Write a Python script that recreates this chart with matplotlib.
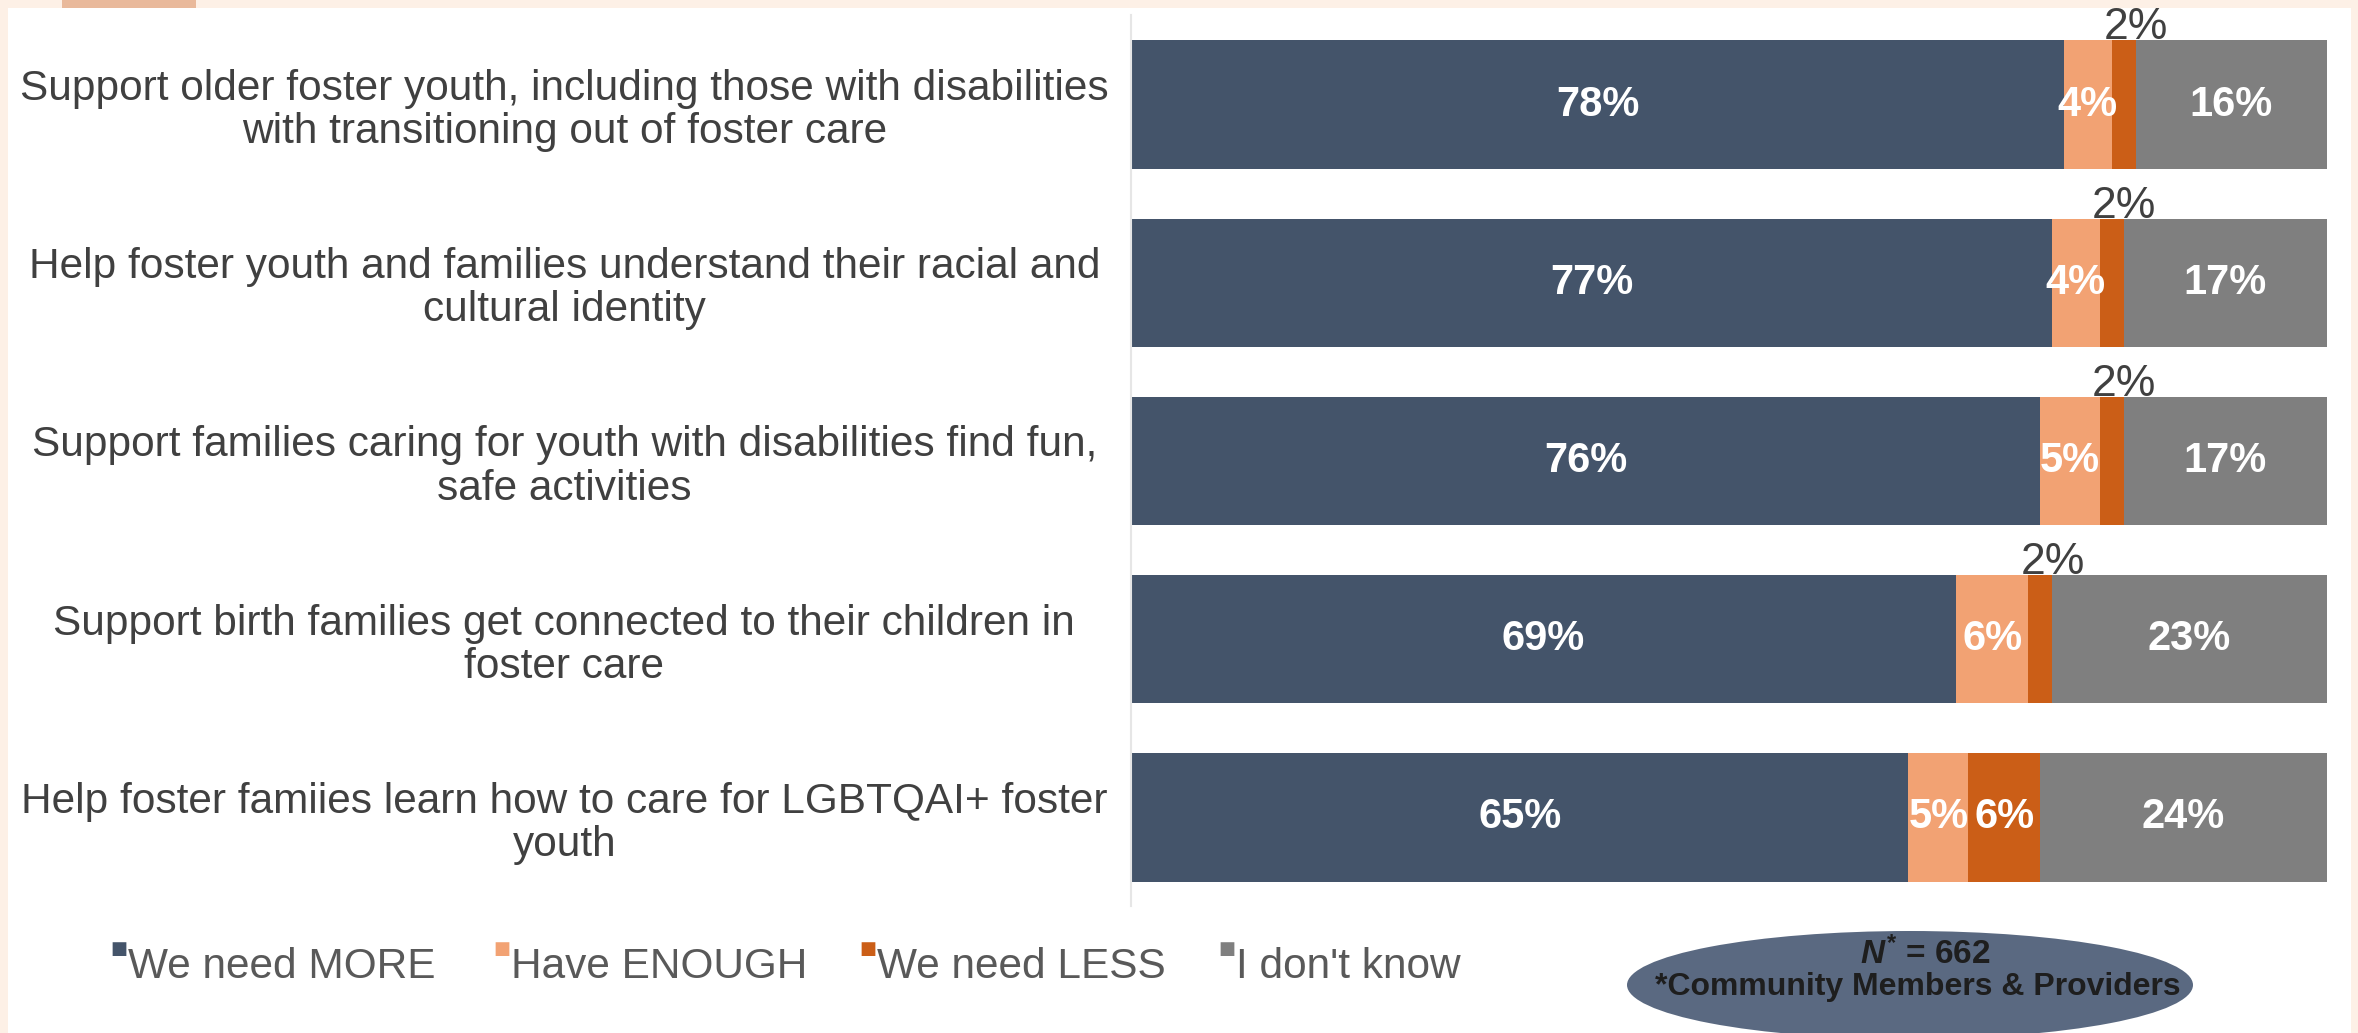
import matplotlib.pyplot as plt
import numpy as np
from matplotlib.patches import Ellipse, Rectangle

plt.rcParams['font.family'] = ['Liberation Sans', 'DejaVu Sans']
plt.rcParams['mathtext.fontset'] = 'custom'
plt.rcParams['mathtext.it'] = 'Liberation Sans:italic:bold'
plt.rcParams['mathtext.rm'] = 'Liberation Sans:bold'

categories = [
    "Support older foster youth, including those with disabilities\nwith transitioning out of foster care",
    "Help foster youth and families understand their racial and\ncultural identity",
    "Support families caring for youth with disabilities find fun,\nsafe activities",
    "Support birth families get connected to their children in\nfoster care",
    "Help foster famiies learn how to care for LGBTQAI+ foster\nyouth",
]
series_names = ["We need MORE", "Have ENOUGH", "We need LESS", "I don't know"]
need_more = [78, 77, 76, 69, 65]
have_enough = [4, 4, 5, 6, 5]
need_less = [2, 2, 2, 2, 6]
dont_know = [16, 17, 17, 23, 24]
sample_n = 662

colors = ["#44546A", "#F2A273", "#CB5E17", "#7F7F7F"]
values = [need_more, have_enough, need_less, dont_know]

fig = plt.figure(figsize=(23.58, 10.33), dpi=100)
fig.patch.set_facecolor("white")

# peach frame and tab
frame = "#FDF0E6"
fig.add_artist(Rectangle((0, 1 - 8 / 1033), 1, 8 / 1033, transform=fig.transFigure, color=frame, lw=0))
fig.add_artist(Rectangle((0, 0), 8 / 2358, 1, transform=fig.transFigure, color=frame, lw=0))
fig.add_artist(Rectangle((1 - 7 / 2358, 0), 7 / 2358, 1, transform=fig.transFigure, color=frame, lw=0))
fig.add_artist(Rectangle((62 / 2358, 1 - 8 / 1033), 134 / 2358, 8 / 1033, transform=fig.transFigure,
                         color="#E9B99B", lw=0))

ax = fig.add_axes([1131 / 2358, 0.1225, 1196 / 2358, 0.8625])
y = np.arange(len(categories))
left = np.zeros(len(categories))
for name, vals, col in zip(series_names, values, colors):
    vals = np.array(vals)
    ax.barh(y, vals, left=left, height=0.72, color=col, label=name)
    for yi, l, v in zip(y, left, vals):
        cx = l + v / 2
        if v <= 2:
            ax.annotate(f"{v}%", xy=(cx, yi - 0.36), xytext=(9, 9), textcoords="offset points",
                        ha="center", va="center", fontsize=32, color="#404040")
        else:
            ax.text(cx, yi, f"{v}%", ha="center", va="center", fontsize=30,
                    fontweight="bold", color="white")
    left += vals

ax.set_xlim(0, 100)
ax.set_ylim(len(categories) - 0.5, -0.5)
ax.set_xticks([])
ax.set_yticks(y)
ax.set_yticklabels(categories, fontsize=30.5, color="#404040", ha="center", multialignment="center",
                   linespacing=1.1)
ax.tick_params(axis="y", length=0, pad=408)
for s in ["top", "right", "bottom"]:
    ax.spines[s].set_visible(False)
ax.spines["left"].set_color("#E6E6E6")
ax.spines["left"].set_linewidth(1.5)

# legend entries
leg_x = [128, 511, 877, 1236]
for name, col, lx in zip(series_names, colors, leg_x):
    fig.text((lx - 18) / 2358, 1 - 940 / 1033, "\u25A0", fontsize=13, color=col, ha="left", va="top",
             family="DejaVu Sans")
    fig.text(lx / 2358, 1 - 967 / 1033, name, fontsize=30.5, color="#595959", ha="left", va="center")

# sample-size ellipse
fig.add_artist(Ellipse((1910 / 2358, 1 - 985 / 1033), 566 / 2358, 108 / 1033, transform=fig.transFigure,
                       facecolor="#5A6981", edgecolor="none"))
fig.text(1925 / 2358, 1 - 954 / 1033, r"$\mathit{N}^{*}$" + f" = {sample_n}", fontsize=24,
         fontweight="bold", color="#1E1E1E", ha="center", va="center")
fig.text(1918 / 2358, 1 - 987 / 1033, "*Community Members & Providers", fontsize=23,
         fontweight="bold", color="#1E1E1E", ha="center", va="center")

fig.savefig("out.png", dpi=100)
